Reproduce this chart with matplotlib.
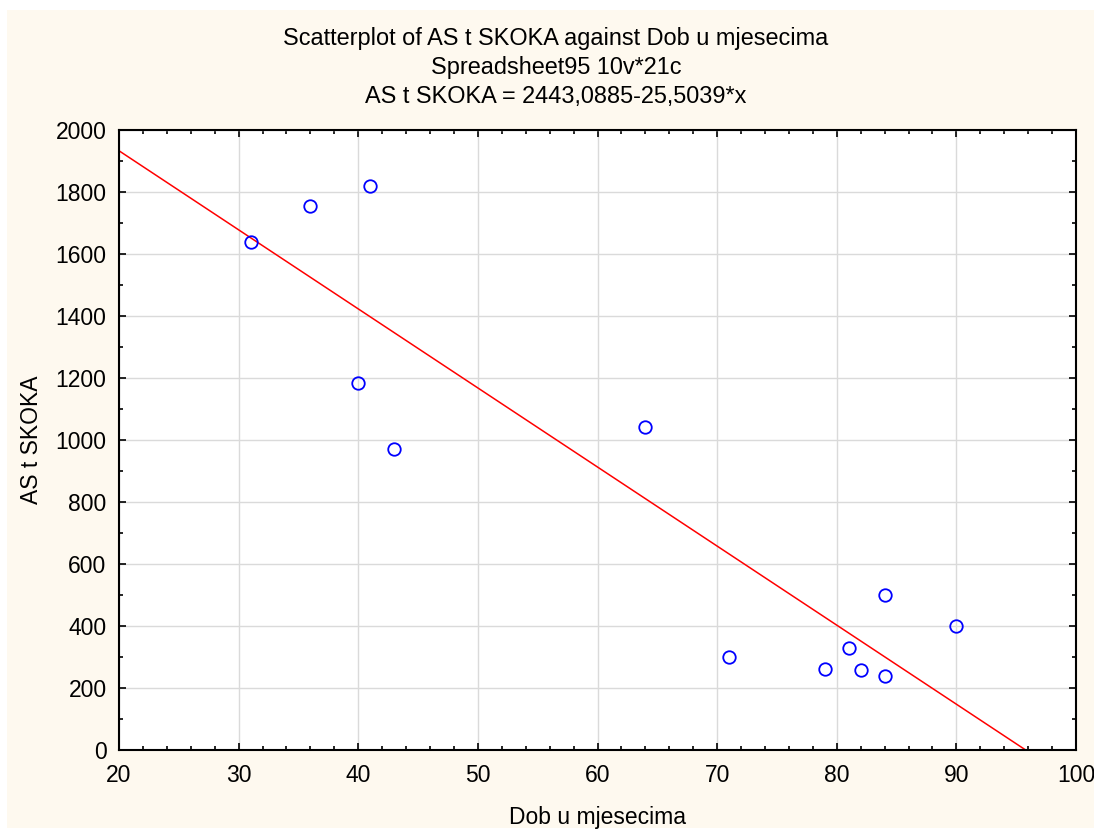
"""Scatterplot of AS t SKOKA against Dob u mjesecima, with fitted line."""

import matplotlib

matplotlib.use("Agg")
import matplotlib.pyplot as plt
import numpy as np
from matplotlib.patches import Rectangle
from matplotlib.ticker import MultipleLocator

plt.rcParams["font.family"] = ["Liberation Sans", "DejaVu Sans"]

# data
dob = [31, 36, 41, 40, 43, 64, 71, 79, 81, 82, 84, 84, 90]
skok = [1640, 1755, 1818, 1185, 972, 1043, 300, 262, 330, 258, 500, 240, 400]
intercept = 2443.0885
slope = -25.5039

title_lines = [
    "Scatterplot of AS t SKOKA against Dob u mjesecima",
    "Spreadsheet95 10v*21c",
    "AS t SKOKA = 2443,0885-25,5039*x",
]

W, H = 1094, 830
fig = plt.figure(figsize=(W / 100, H / 100), dpi=100)
fig.patch.set_facecolor("white")
fig.patches.append(
    Rectangle((7 / W, 2 / H), (W - 7) / W, (H - 12) / H, transform=fig.transFigure,
              facecolor="#fef9ef", edgecolor="none", zorder=-10)
)

ax = fig.add_axes([119 / W, (H - 750) / H, (1076 - 119) / W, (750 - 130) / H])
ax.set_facecolor("white")

ax.set_xlim(20, 100)
ax.set_ylim(0, 2000)
ax.xaxis.set_major_locator(MultipleLocator(10))
ax.xaxis.set_minor_locator(MultipleLocator(2))
ax.yaxis.set_major_locator(MultipleLocator(200))
ax.yaxis.set_minor_locator(MultipleLocator(100))
ax.grid(True, which="major", color="#dadada", linewidth=1.0)
ax.set_axisbelow(True)

ax.tick_params(which="both", direction="in", top=True, right=True, labelsize=16.5,
               color="black")
ax.tick_params(axis="x", pad=10)
ax.tick_params(axis="y", pad=9)
ax.tick_params(which="major", length=5, width=1.2)
ax.tick_params(which="minor", length=3, width=1.2)
for spine in ax.spines.values():
    spine.set_linewidth(1.5)

xs = np.array(ax.get_xlim())
ax.plot(xs, intercept + slope * xs, color="#ff0000", linewidth=1.1, zorder=2)
ax.plot(dob, skok, linestyle="none", marker="o", markersize=9, markerfacecolor="none",
        markeredgecolor="#0000ff", markeredgewidth=1.3, zorder=3, clip_on=False)

ax.set_xlabel("Dob u mjesecima", fontsize=16.5, labelpad=14)
ax.set_ylabel("AS t SKOKA", fontsize=16.5, labelpad=9)

for i, line in enumerate(title_lines):
    fig.text(556 / W, 1 - (38 + 29.5 * i) / H, line, ha="center", va="center", fontsize=16.9)

fig.savefig("out.png", dpi=100, facecolor=fig.get_facecolor())
